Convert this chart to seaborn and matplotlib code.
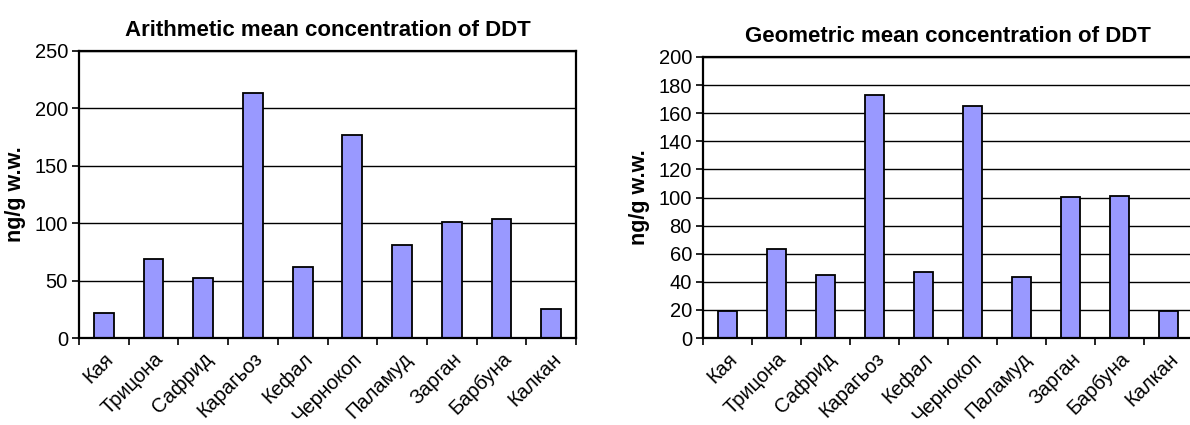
import matplotlib
import matplotlib.pyplot as plt
import numpy as np
import pandas as pd
import seaborn as sns
from matplotlib.ticker import FixedLocator, MultipleLocator

matplotlib.use("Agg")

FISH = ["Кая", "Трицона", "Сафрид", "Карагьоз", "Кефал",
        "Чернокоп", "Паламуд", "Зарган", "Барбуна", "Калкан"]
ARITH_MEAN = [22, 69, 52, 213, 62, 177, 81, 101, 104, 25]
GEOM_MEAN = [19.5, 63, 45, 173, 47, 165, 43.5, 100.5, 101, 19]

BAR_COLOR = "#9999FF"

sns.set_style("white")
plt.rcParams["font.family"] = ["Liberation Sans", "DejaVu Sans"]
plt.rcParams["text.color"] = "black"
plt.rcParams["axes.labelcolor"] = "black"
plt.rcParams["xtick.color"] = "black"
plt.rcParams["ytick.color"] = "black"

fig = plt.figure(figsize=(11.9, 4.25), dpi=100)
W, H = 1190, 425
ax1 = fig.add_axes([79 / W, 1 - 338 / H, 497 / W, 287 / H])
ax2 = fig.add_axes([703 / W, 1 - 338 / H, 490 / W, 281 / H])


def draw(ax, values, title, ymax, step):
    df = pd.DataFrame({"fish": FISH, "value": values})
    sns.barplot(data=df, x="fish", y="value", ax=ax, color=BAR_COLOR,
                saturation=1, width=0.4, edgecolor="black", linewidth=1.3,
                zorder=3)
    ax.set_xlim(-0.5, len(FISH) - 0.5)
    ax.set_ylim(0, ymax)
    ax.yaxis.set_major_locator(MultipleLocator(step))
    ax.grid(axis="y", color="black", linewidth=1.0, zorder=0)
    ax.set_axisbelow(True)
    for sp in ax.spines.values():
        sp.set_color("black")
        sp.set_linewidth(1.6)
        sp.set_zorder(4)
    ax.xaxis.set_minor_locator(FixedLocator(np.arange(-0.5, len(FISH), 1.0)))
    ax.tick_params(axis="x", which="major", length=0, pad=8)
    ax.tick_params(axis="x", which="minor", length=5, width=1.2,
                   direction="out", bottom=True, color="black")
    ax.tick_params(axis="y", length=5, width=1.2, direction="out",
                   left=True, color="black", labelsize=14.5, pad=3)
    for lab in ax.get_xticklabels():
        lab.set_rotation(45)
        lab.set_ha("right")
        lab.set_rotation_mode("anchor")
        lab.set_fontsize(14.5)
    ax.set_xlabel("")
    ax.set_ylabel("ng/g w.w.", fontsize=15.5, fontweight="bold", labelpad=6)
    ax.set_title(title, fontsize=16, fontweight="bold", pad=11)


draw(ax1, ARITH_MEAN, "Arithmetic mean concentration of DDT", 250, 50)
draw(ax2, GEOM_MEAN, "Geometric mean concentration of DDT", 200, 20)

fig.savefig("out.png", dpi=100)
